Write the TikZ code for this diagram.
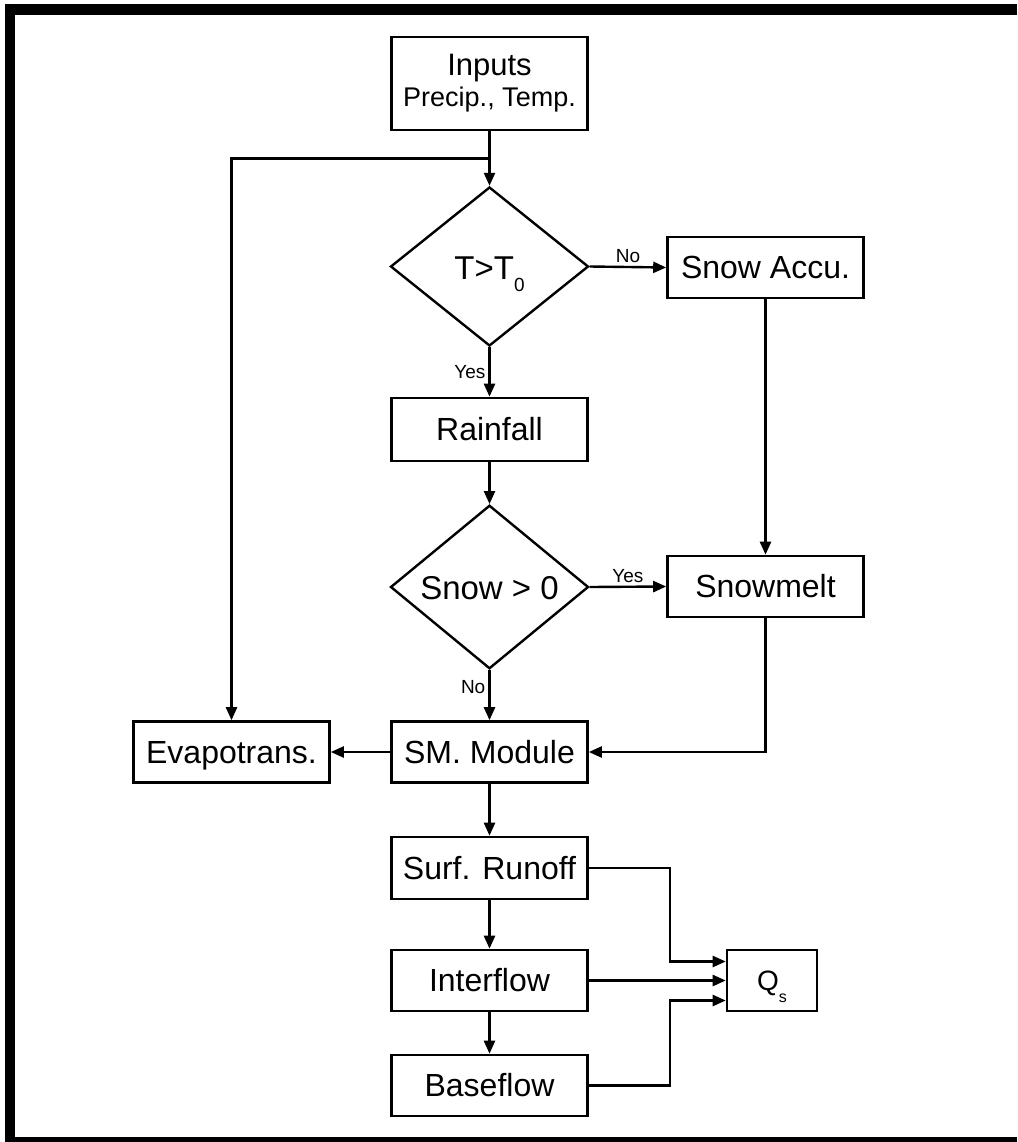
\documentclass[tikz,border=0pt]{standalone}
\usepackage{fontspec}
\setmainfont{Liberation Sans}
\usetikzlibrary{shapes.geometric,arrows.meta,calc}
\begin{document}
\begin{tikzpicture}[x=1pt,y=-1pt,
  basebox/.style={draw, line width=2.6pt, minimum width=196pt, minimum height=61pt, inner sep=0pt},
  box/.style={basebox, font=\fontsize{32}{36}\selectfont, text height=23pt, text depth=1pt},
  dia/.style={draw, diamond, line width=2.4pt, minimum width=198pt, minimum height=159pt, inner sep=0pt, font=\fontsize{33}{36}\selectfont, text height=25pt, text depth=0pt},
  arr/.style={line width=2.4pt, -{Triangle[length=13pt,width=11pt]}},
  lbl/.style={font=\fontsize{19}{19}\selectfont, inner sep=3pt}]
\useasboundingbox (0,0) rectangle (1017,1142);
% frame
\fill[black] (5,4) rectangle (1017,15);
\fill[black] (5,4) rectangle (15,1142);
\fill[black] (5,1137) rectangle (1017,1142);
% nodes
\node[basebox, minimum height=93pt, align=center, font=\fontsize{31}{31}\selectfont] (inp) at (489.5,83.5)
  {Inputs\\{\fontsize{27}{31}\selectfont Precip., Temp.}};
\node[dia] (d1) at (489.5,266.5) {T>T\raisebox{-0.38em}{\fontsize{19}{19}\selectfont 0}};
\node[box] (acc) at (765.5,267.5) {Snow Accu.};
\node[box, minimum height=63pt] (rain) at (489.5,429.5) {Rainfall};
\node[dia, minimum height=158pt] (d2) at (489.5,587) {Snow > 0};
\node[box] (melt) at (765.5,586.5) {Snowmelt};
\node[box] (sm) at (489.5,752) {SM. Module};
\node[box] (evap) at (231.5,752) {Evapotrans.};
\node[box, minimum height=62pt] (surf) at (489.5,868) {Surf. Runoff};
\node[box] (inter) at (489.5,980.5) {Interflow};
\node[box] (base) at (489.5,1085.5) {Baseflow};
\node[box, minimum width=90pt, font=\fontsize{28}{30}\selectfont, text height=20pt] (qs) at (772,980.5)
  {Q\raisebox{-0.45em}{\fontsize{16}{16}\selectfont s}};
\coordinate (j) at ($(inp.south)!0.5!(d1.north)$);
% connectors
\draw[arr] (inp.south) -- (d1.north);
\draw[arr] (j) -| (evap.north);
\draw[arr] (d1.east) -- node[lbl, above] {No} (acc.west);
\draw[arr] (d1.south) -- node[lbl, left] {Yes} (rain.north);
\draw[arr] (rain.south) -- (d2.north);
\draw[arr] (d2.east) -- node[lbl, above] {Yes} (melt.west);
\draw[arr] (acc.south) -- (melt.north);
\draw[arr] (d2.south) -- node[lbl, left, pos=0.35] {No} (sm.north);
\draw[arr] (melt.south) |- (sm.east);
\draw[arr] (sm.west) -- (evap.east);
\draw[arr] (sm.south) -- (surf.north);
\draw[arr] (surf.south) -- (inter.north);
\draw[arr] (inter.south) -- (base.north);
\draw[arr] (surf.east) -| ([xshift=-56pt,yshift=19pt]qs.west) -- ([yshift=19pt]qs.west);
\draw[arr] (inter.east) -- (qs.west);
\draw[arr] (base.east) -| ([xshift=-56pt,yshift=-20pt]qs.west) -- ([yshift=-20pt]qs.west);
\end{tikzpicture}
\end{document}
